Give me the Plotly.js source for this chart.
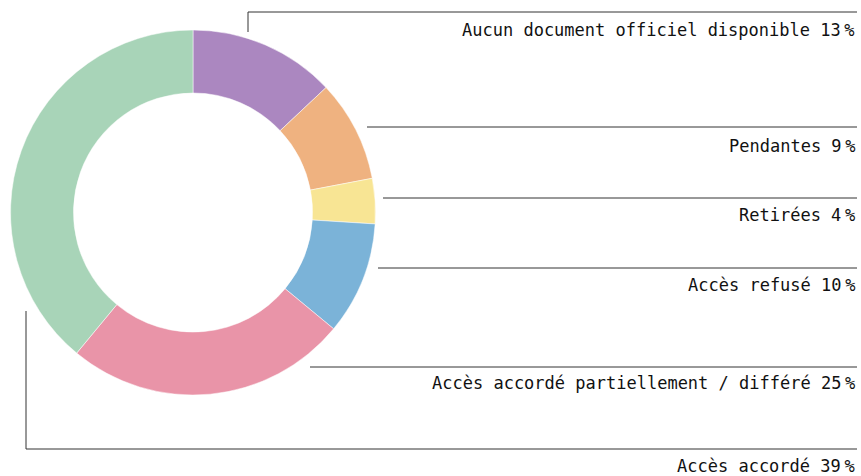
<!DOCTYPE html>
<html>
<head>
<meta charset="utf-8">
<script src="https://cdn.plot.ly/plotly-3.0.1.min.js"></script>
<style>
html,body{margin:0;padding:0;background:#fff;}
#chart{width:861px;height:476px;}
</style>
</head>
<body>
<div id="chart"></div>
<script>
var categories = [
  "Aucun document officiel disponible",
  "Pendantes",
  "Retirées",
  "Accès refusé",
  "Accès accordé partiellement / différé",
  "Accès accordé"
];
var values = [13, 9, 4, 10, 25, 39];
var colors = ["#ab87c0", "#efb280", "#f8e594", "#7bb3d8", "#e994a8", "#a8d4b8"];

var W = 861, H = 476;
function px(x){ return x / W; }
function py(y){ return 1 - y / H; }

var cx = 193, cy = 212.5, R = 182.5, hole = 0.655;

var trace = {
  type: "pie",
  labels: categories,
  values: values,
  marker: {colors: colors, line: {color: "#ffffff", width: 0.5}},
  hole: hole,
  sort: false,
  direction: "clockwise",
  rotation: 0,
  textinfo: "none",
  hoverinfo: "label+percent",
  domain: {x: [px(cx - R), px(cx + R)], y: [py(cy + R), py(cy - R)]},
  showlegend: false
};

// label layout (pixel positions of leader lines and text)
var lineY = [12, 127, 198, 268, 367, 449];
var lineX0 = [248, 367, 383, 378, 310, 26];
var textY = [30, 146, 215, 285, 383, 466];
var rightX = 857;

var shapes = [];
var annotations = [];
for (var i = 0; i < categories.length; i++) {
  shapes.push({type: "line", xref: "paper", yref: "paper",
    x0: px(lineX0[i]), x1: px(rightX), y0: py(lineY[i]), y1: py(lineY[i]),
    line: {color: "#333333", width: 1}});
  annotations.push({xref: "paper", yref: "paper", x: px(rightX), y: py(textY[i]),
    xanchor: "right", yanchor: "middle", showarrow: false,
    text: categories[i] + " " + values[i] + "<span style='font-size:6px'> </span>%",
    font: {family: "DejaVu Sans Mono, monospace", size: 17, color: "#111111"}});
}
// vertical ticks
shapes.push({type: "line", xref: "paper", yref: "paper",
  x0: px(248), x1: px(248), y0: py(12), y1: py(32), line: {color: "#333333", width: 1}});
shapes.push({type: "line", xref: "paper", yref: "paper",
  x0: px(26), x1: px(26), y0: py(311), y1: py(449), line: {color: "#333333", width: 1}});

var layout = {
  width: W, height: H,
  margin: {l: 0, r: 0, t: 0, b: 0},
  paper_bgcolor: "#ffffff",
  plot_bgcolor: "#ffffff",
  shapes: shapes,
  annotations: annotations
};

Plotly.newPlot("chart", [trace], layout, {displayModeBar: false, staticPlot: true});
</script>
</body>
</html>
